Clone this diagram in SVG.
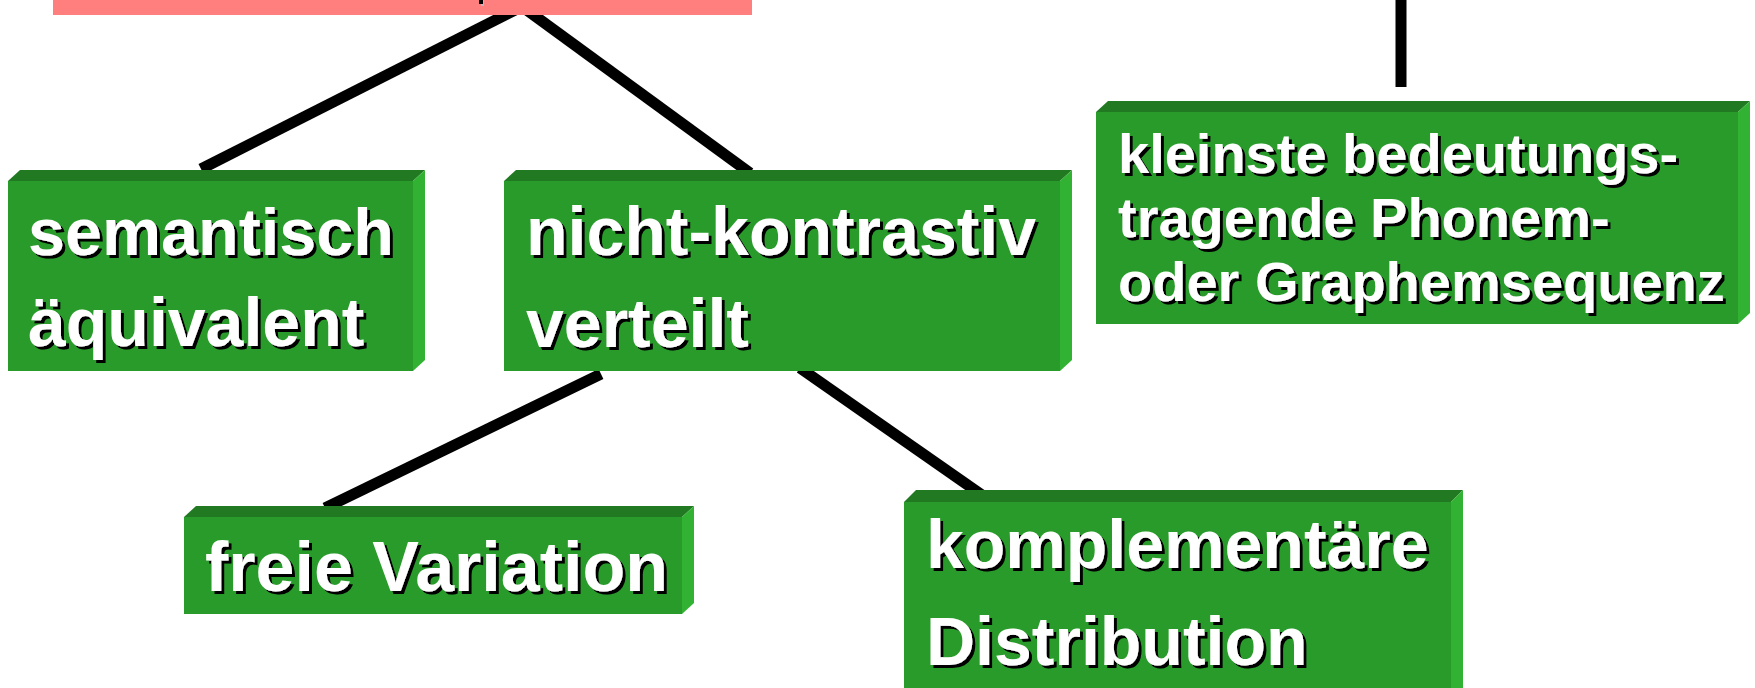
<svg xmlns="http://www.w3.org/2000/svg" width="1755" height="688" viewBox="0 0 1755 688">
  <defs>
    <filter id="shadow" x="-5%" y="-5%" width="110%" height="120%">
      <feDropShadow dx="3" dy="3" stdDeviation="0" flood-color="#000" flood-opacity="1"/>
    </filter>
    <style>
      .front { fill: #299b2b; }
      .top { fill: #217a21; }
      .side { fill: #32b232; }
      .label { font-family: "Liberation Sans", Arial, sans-serif; font-weight: bold; fill: #fff; filter: url(#shadow); }
      .big { font-size: 68px; }
      .mid { font-size: 56px; }
      .conn { stroke: #000; stroke-width: 11; fill: none; stroke-linecap: butt; }
    </style>
  </defs>

  <rect width="1755" height="688" fill="#fff"/>

  <!-- connectors -->
  <g id="connectors">
    <line class="conn" x1="519" y1="8" x2="201" y2="169"/>
    <line class="conn" x1="524" y1="8" x2="750" y2="173"/>
    <line class="conn" x1="601" y1="374" x2="325" y2="508"/>
    <line class="conn" x1="800" y1="368" x2="982" y2="495"/>
    <line class="conn" x1="1401" y1="0" x2="1401" y2="87"/>
  </g>

  <!-- heading bar (top, cut off) -->
  <g id="heading">
    <rect x="53" y="0" width="699" height="15" fill="#ff7f7f"/>
    <rect x="481" y="0" width="3" height="6" fill="#bbb"/>
    <rect x="479" y="0" width="4" height="4" fill="#000"/>
  </g>

  <g id="node-semantisch">
    <polygon class="top" points="8,181 20,170 425,170 413,181"/>
    <polygon class="side" points="413,181 425,170 425,360 413,371"/>
    <rect class="front" x="8" y="181" width="405" height="190"/>
    <text class="label big" x="28" y="255" style="font-size:66.5px">semantisch</text>
    <text class="label big" x="28" y="346">äquivalent</text>
  </g>

  <g id="node-nichtkontrastiv">
    <polygon class="top" points="504,181 516,170 1072,170 1060,181"/>
    <polygon class="side" points="1060,181 1072,170 1072,360 1060,371"/>
    <rect class="front" x="504" y="181" width="556" height="190"/>
    <text class="label big" x="526" y="255">nicht-kontrastiv</text>
    <text class="label big" x="526" y="347">verteilt</text>
  </g>

  <g id="node-kleinste">
    <polygon class="top" points="1096,112 1108,101 1750,101 1738,112"/>
    <polygon class="side" points="1738,112 1750,101 1750,313 1738,324"/>
    <rect class="front" x="1096" y="112" width="642" height="212"/>
    <text class="label mid" x="1118" y="173">kleinste bedeutungs-</text>
    <text class="label mid" x="1118" y="237">tragende Phonem-</text>
    <text class="label mid" x="1118" y="301">oder Graphemsequenz</text>
  </g>

  <g id="node-freie">
    <polygon class="top" points="184,517 196,506 694,506 682,517"/>
    <polygon class="side" points="682,517 694,506 694,603 682,614"/>
    <rect class="front" x="184" y="517" width="498" height="97"/>
    <text class="label big" x="205" y="591" style="font-size:70px">freie Variation</text>
  </g>

  <g id="node-komplementaer">
    <polygon class="top" points="904,502 916,490 1463,490 1451,502"/>
    <polygon class="side" points="1451,502 1463,490 1463,700 1451,712"/>
    <rect class="front" x="904" y="502" width="547" height="210"/>
    <text class="label big" x="926" y="568">komplementäre</text>
    <text class="label big" x="926" y="665">Distribution</text>
  </g>
</svg>
